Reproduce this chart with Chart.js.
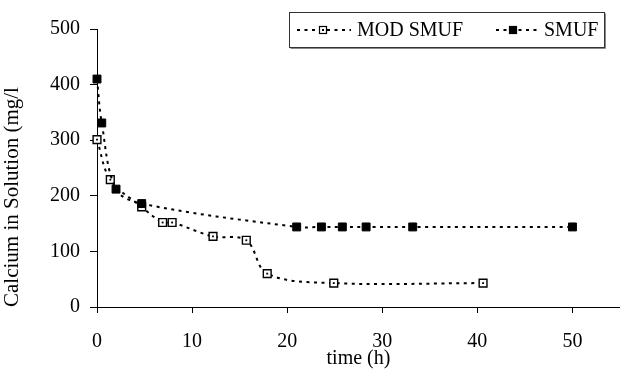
<!DOCTYPE html>
<html>
<head>
<meta charset="utf-8">
<script src="https://cdn.jsdelivr.net/npm/chart.js@4"></script>
<style>
  html, body { margin: 0; padding: 0; background: #fff; }
  #box { width: 620px; height: 370px; }
</style>
</head>
<body>
<div id="box"><canvas id="myChart"></canvas></div>
<script>
// values
const seriesNames = ["MOD SMUF", "SMUF"];
const modTime = [0, 1.4, 4.7, 6.9, 7.9, 12.2, 15.7, 17.9, 24.9, 40.6];
const modCalcium = [301, 229, 180, 152, 152, 127, 120, 60, 43, 43];
const smufTime = [0, 0.5, 2, 4.7, 21, 23.6, 25.8, 28.3, 33.2, 50];
const smufCalcium = [410, 331, 212, 186, 144, 144, 144, 144, 144, 144];
const xTicks = [0, 10, 20, 30, 40, 50];
const yTicks = [0, 100, 200, 300, 400, 500];

function toPoints(xs, ys) {
    return xs.map((x, i) => ({ x: x, y: ys[i] }));
}

Chart.defaults.font.family = "'Liberation Serif', 'Times New Roman', serif";
Chart.defaults.font.size = 20;
Chart.defaults.color = "#000";

// legend drawn as a framed box like the original
const boxLegend = {
    id: "boxLegend",
    afterDraw(chart) {
        const ctx = chart.ctx;
        ctx.save();
        ctx.fillStyle = "#fff";
        ctx.fillRect(289, 12, 315, 36);
        ctx.strokeStyle = "#888";
        ctx.lineWidth = 1;
        ctx.beginPath();
        ctx.moveTo(290.5, 48.5); ctx.lineTo(605.5, 48.5); ctx.lineTo(605.5, 13.5);
        ctx.stroke();
        ctx.strokeStyle = "#333";
        ctx.strokeRect(289.5, 12.5, 315, 35);

        const items = [
            { x0: 297, x1: 351, mx: 323, tx: 357, ds: chart.data.datasets[0] },
            { x0: 496, x1: 538, mx: 513, tx: 544, ds: chart.data.datasets[1] }
        ];
        const cy = 30;
        items.forEach(it => {
            ctx.strokeStyle = "#000";
            ctx.lineWidth = 2;
            ctx.setLineDash([3, 4.5]);
            ctx.beginPath();
            ctx.moveTo(it.x0, cy); ctx.lineTo(it.x1, cy);
            ctx.stroke();
            ctx.setLineDash([]);
            ctx.fillStyle = it.ds.pointBackgroundColor;
            ctx.fillRect(it.mx - 3.5, cy - 3.5, 7, 7);
            ctx.lineWidth = 1.2;
            ctx.strokeRect(it.mx - 3.5, cy - 3.5, 7, 7);
            if (it.ds.pointBackgroundColor === "#fff") {
                ctx.fillStyle = "#000";
                ctx.fillRect(it.mx - 1, cy - 1, 2, 2);
            }
            ctx.fillStyle = "#000";
            ctx.font = "20px 'Liberation Serif'";
            ctx.textBaseline = "middle";
            ctx.textAlign = "left";
            ctx.fillText(it.ds.label, it.tx, cy + 1);
        });
        ctx.restore();
    }
};

const ctx = document.getElementById("myChart").getContext("2d");

const calciumChart = new Chart(ctx, {
    type: "scatter",
    data: {
        datasets: [
            {
                label: seriesNames[0],
                data: toPoints(modTime, modCalcium),
                order: 2,
                showLine: true,
                tension: 0.35,
                clip: false,
                borderColor: "#000",
                borderWidth: 2,
                borderDash: [3, 4.5],
                pointStyle: "rect",
                pointRadius: 5.5,
                pointBorderWidth: 1.4,
                pointBorderColor: "#000",
                pointBackgroundColor: "#fff"
            },
            {
                label: seriesNames[1],
                data: toPoints(smufTime, smufCalcium),
                order: 0,
                showLine: true,
                tension: 0.35,
                clip: false,
                borderColor: "#000",
                borderWidth: 2,
                borderDash: [3, 4.5],
                pointStyle: "rect",
                pointRadius: 5.6,
                pointBorderWidth: 1,
                pointBorderColor: "#000",
                pointBackgroundColor: "#000"
            },
            {
                // small dot inside the open squares
                label: "",
                data: toPoints(modTime, modCalcium),
                order: 1,
                showLine: false,
                clip: false,
                pointStyle: "rect",
                pointRadius: 1.3,
                pointBorderWidth: 0,
                pointBackgroundColor: "#000"
            }
        ]
    },
    options: {
        responsive: true,
        maintainAspectRatio: false,
        animation: false,
        layout: { autoPadding: false, padding: { top: 29, right: 0, left: 0, bottom: 0 } },
        plugins: {
            legend: { display: false },
            tooltip: { enabled: false }
        },
        scales: {
            x: {
                type: "linear",
                min: 0,
                max: 55,
                afterBuildTicks: s => { s.ticks = xTicks.map(v => ({ value: v })); },
                afterFit: s => { s.height = 63; s.paddingLeft = 0; s.paddingRight = 0; },
                border: { color: "#000", width: 1 },
                grid: { drawOnChartArea: false, drawTicks: true, tickLength: 6, color: "#000" },
                ticks: { padding: 17, font: { size: 20 } },
                title: { display: true, text: "time (h)", font: { size: 20 }, padding: { top: 0, bottom: -1 } }
            },
            y: {
                min: 0,
                max: 500,
                afterBuildTicks: s => { s.ticks = yTicks.map(v => ({ value: v })); },
                afterFit: s => { s.width = 97; },
                border: { color: "#000", width: 1 },
                grid: { drawOnChartArea: false, drawTicks: true, tickLength: 7, color: "#000" },
                ticks: { padding: 10, font: { size: 20 } },
                title: { display: true, text: "Calcium in Solution (mg/l", align: "start", font: { size: 21 }, padding: { top: 0, bottom: 0 } }
            }
        }
    },
    plugins: [boxLegend]
});
</script>
</body>
</html>
